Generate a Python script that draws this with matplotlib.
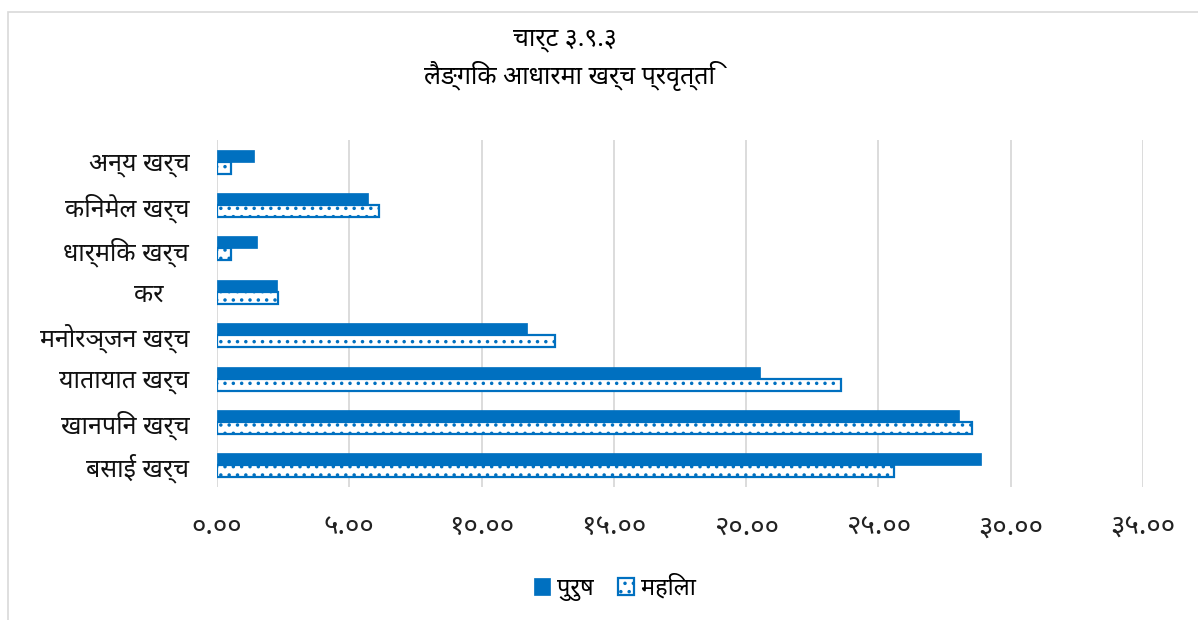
import numpy as np
import matplotlib
matplotlib.use('Agg')
import matplotlib.pyplot as plt
from matplotlib.patches import Rectangle
from matplotlib.ticker import FuncFormatter

plt.rcParams['font.family'] = ['Noto Sans Devanagari', 'DejaVu Sans']
plt.rcParams['hatch.linewidth'] = 1.3

# data (bottom to top, as drawn)
categories = ['बसाई खर्च', 'खानपिन खर्च', 'यातायात खर्च', 'मनोरञ्जन खर्च',
              'कर    ', 'धार्मिक खर्च', 'किनमेल खर्च', 'अन्य खर्च']
purush = [28.87, 28.03, 20.53, 11.71, 2.28, 1.52, 5.69, 1.41]
mahila = [25.60, 28.53, 23.58, 12.76, 2.30, 0.52, 6.13, 0.52]
series_names = ['पुरुष', 'महिला']
title_lines = ['चार्ट ३.९.३', 'लैङ्गिक आधारमा खर्च प्रवृत्ति']

blue = '#0070C0'
dev_digits = str.maketrans('0123456789', '०१२३४५६७८९')

fig = plt.figure(figsize=(11.98, 6.2), dpi=100)
ax = fig.add_axes([217/1198, 1 - 487/620, (1143 - 217)/1198, (487 - 140)/620])

# chart border
fig.patches.append(Rectangle((8/1198, -0.1), 1.2, 1 - 12/620 + 0.1,
                             transform=fig.transFigure, fill=False,
                             edgecolor='#D9D9D9', linewidth=1.2))

y = np.arange(len(categories))
h = 0.277
ax.barh(y + h/2, purush, height=h, color=blue, edgecolor=blue, linewidth=0.5,
        label=series_names[0], zorder=3)
ax.barh(y - h/2, mahila, height=h, color='white', edgecolor=blue, linewidth=1.6,
        hatch='..', label=series_names[1], zorder=3)

ax.set_xlim(0, 35)
ax.set_ylim(-0.5, len(categories) - 0.5)
ax.set_xticks(np.arange(0, 36, 5))
ax.xaxis.set_major_formatter(FuncFormatter(lambda v, p: f'{v:.2f}'.translate(dev_digits)))
ax.set_yticks(y)
ax.set_yticklabels(categories)
ax.tick_params(axis='x', length=0, pad=19, labelsize=20, colors='#222222')
ax.tick_params(axis='y', length=0, pad=20, labelsize=18, colors='#111111')
ax.grid(axis='x', color='#D9D9D9', linewidth=1.3, zorder=0)
ax.set_axisbelow(True)
for s in ax.spines.values():
    s.set_visible(False)

fig.text(565/1198, 1 - 40/620, title_lines[0], ha='center', va='center', fontsize=18)
fig.text(570/1198, 1 - 76/620, title_lines[1], ha='center', va='center', fontsize=18)

fig.legend(loc='center', bbox_to_anchor=(615/1198, 1 - 588/620), ncol=2, frameon=False,
           fontsize=17, handlelength=0.7, handleheight=0.7, handletextpad=0.3,
           columnspacing=1.0)

fig.savefig('out.png', dpi=100)
